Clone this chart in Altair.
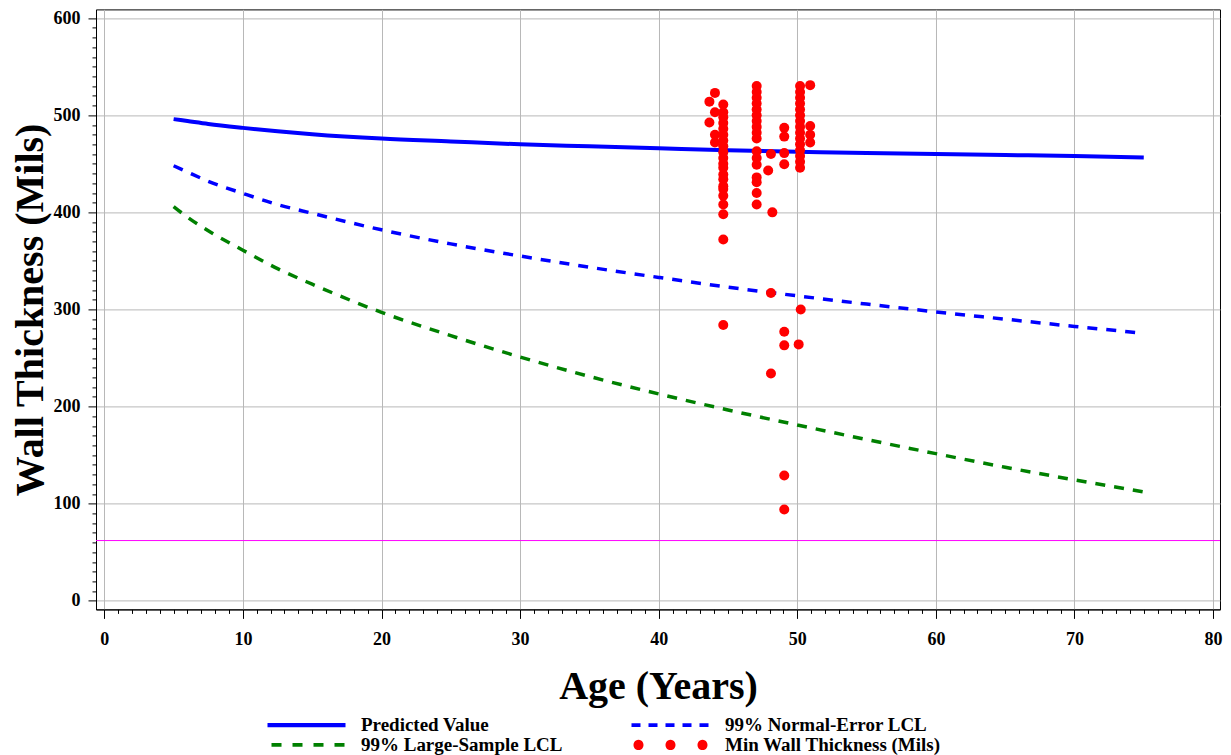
import altair as alt
import pandas as pd

FONT = "Liberation Serif"

# ---------------- data ----------------
curve_age = [5, 6, 7.5, 10, 12.5, 15, 20, 25, 30, 35, 40, 45, 50, 55, 60, 65, 70, 75]
predicted = [496, 494, 491, 487, 483.5, 480.5, 476, 473, 470, 468, 466, 464, 462.5, 461, 460, 459, 458, 456.5]
normal_lcl = [448, 441.5, 432, 419.5, 408, 399, 382, 367.5, 355, 343.5, 333, 323, 314, 305.5, 297.5, 290, 282.5, 275.5]
large_lcl = [406, 395, 381, 361, 342, 326, 297, 273, 251, 231, 213, 196.5, 181, 166, 151.5, 137.5, 124.5, 112]

obs_age = [
    43.66, 43.66,
    44.06, 44.06, 44.06, 44.06,
    44.66, 44.66, 44.66, 44.66, 44.66, 44.66, 44.66, 44.66, 44.66, 44.66, 44.66,
    44.66, 44.66, 44.66, 44.66, 44.66, 44.66, 44.66, 44.66, 44.66, 44.66,
    47.07, 47.07, 47.07, 47.07, 47.07, 47.07, 47.07, 47.07, 47.07, 47.07, 47.07,
    47.07, 47.07, 47.07, 47.07, 47.07, 47.07,
    48.1, 47.9, 48.2, 48.1, 48.1,
    49.06, 49.06, 49.06, 49.06, 49.06, 49.06, 49.06, 49.06,
    50.2, 50.2, 50.2, 50.2, 50.2, 50.2, 50.2, 50.2, 50.2, 50.2, 50.2, 50.2,
    50.2, 50.2, 50.2, 50.25, 50.1,
    50.93, 50.93, 50.93, 50.93,
]
obs_thickness = [
    514, 492.5,
    523, 503, 480, 472,
    511, 503, 498, 492, 486, 480, 474, 468, 462, 456, 450,
    446, 439, 434, 427, 424, 417, 408, 398, 372, 284,
    530, 524, 518, 512, 506, 500, 494, 488, 482, 476, 463,
    456, 449, 436, 431, 420, 408,
    460, 443, 400, 317, 234,
    487, 478, 461, 449.5, 277, 263, 129, 94,
    530, 524, 518, 512, 506, 500, 494, 488, 482, 476, 470, 464,
    458, 452, 446, 300, 264,
    531, 489, 480, 472,
]

limit_value = [62]

# legend entries (listed column by column: left column, then right column)
legend_labels = [
    "Predicted Value",
    "99% Large-Sample LCL",
    "99% Normal-Error LCL",
    "Min Wall Thickness (Mils)",
]
legend_colors = ["#0000ff", "#008000", "#0000ff", "#ff0000"]

x_ticks = list(range(0, 81))
y_ticks = list(range(0, 601, 10))

# ---------------- tables ----------------
pred_df = pd.DataFrame({"age": curve_age, "thickness": predicted})
normal_df = pd.DataFrame({"age": curve_age, "thickness": normal_lcl})
large_df = pd.DataFrame({"age": curve_age, "thickness": large_lcl})
obs_df = pd.DataFrame({"age": obs_age, "thickness": obs_thickness})
limit_df = pd.DataFrame({"thickness": limit_value})
legend_df = pd.DataFrame({"series": legend_labels})

# ---------------- axes ----------------
major_x = "datum.value % 10 === 0"
major_y = "datum.value % 100 === 0"

x_axis = alt.Axis(
    values=x_ticks,
    title="Age (Years)",
    grid=True,
    gridColor="#b8b8b8",
    gridWidth=1,
    gridOpacity={"condition": {"test": major_x, "value": 1}, "value": 0},
    tickColor="black",
    tickWidth=1,
    tickSize={"condition": {"test": major_x, "value": 9}, "value": 4},
    labelExpr=f"{major_x} ? datum.label : ''",
    labelFont=FONT,
    labelFontSize=18,
    labelFontWeight="bold",
    labelColor="black",
    labelPadding=12,
    labelOverlap=False,
    labelFlush=False,
    domainColor="black",
    titleFont=FONT,
    titleFontSize=40,
    titleFontWeight="bold",
    titleColor="black",
    titlePadding=18,
)
y_axis = alt.Axis(
    values=y_ticks,
    title="Wall Thickness (Mils)",
    grid=True,
    gridColor="#b8b8b8",
    gridWidth=1,
    gridOpacity={"condition": {"test": major_y, "value": 1}, "value": 0},
    tickColor="black",
    tickWidth=1,
    tickSize={"condition": {"test": major_y, "value": 8}, "value": 4},
    labelExpr=f"{major_y} ? datum.label : ''",
    labelFont=FONT,
    labelFontSize=18,
    labelFontWeight="bold",
    labelColor="black",
    labelPadding=8,
    labelOverlap=False,
    labelFlush=False,
    domainColor="black",
    titleFont=FONT,
    titleFontSize=40,
    titleFontWeight="bold",
    titleColor="black",
    titlePadding=3,
)

X = alt.X("age:Q", scale=alt.Scale(domain=[-0.6, 80.5], nice=False, zero=False), axis=x_axis)
Y = alt.Y("thickness:Q", scale=alt.Scale(domain=[-8.9, 609], nice=False, zero=False), axis=y_axis)

# ---------------- layers ----------------
limit_rule = alt.Chart(limit_df).mark_rule(color="#ff00ff", strokeWidth=1).encode(y=Y)

large_line = alt.Chart(large_df).mark_line(
    color="#008000", strokeWidth=3.5, strokeDash=[10, 9], interpolate="monotone"
).encode(x=X, y=Y)

normal_line = alt.Chart(normal_df).mark_line(
    color="#0000ff", strokeWidth=3.5, strokeDash=[10, 9], interpolate="monotone"
).encode(x=X, y=Y)

pred_line = alt.Chart(pred_df).mark_line(
    color="#0000ff", strokeWidth=4, interpolate="monotone"
).encode(x=X, y=Y)

points = alt.Chart(obs_df).mark_circle(color="#ff0000", size=100, opacity=1).encode(x=X, y=Y)


# legend symbols (custom SVG paths, 9 px per unit, symbol centre 9 px from entry start)
def u(px):
    return (px - 9) / 9.0


def rects(segs, half_px):
    h = half_px / 9.0
    return " ".join(
        f"M{u(a):.3f},{-h:.3f}H{u(b):.3f}V{h:.3f}H{u(a):.3f}Z" for a, b in segs
    )


def dots(centers, r_px):
    r = r_px / 9.0
    out = []
    for c in centers:
        cx = u(c)
        out.append(
            f"M{cx - r:.3f},0A{r:.3f},{r:.3f} 0 1,0 {cx + r:.3f},0A{r:.3f},{r:.3f} 0 1,0 {cx - r:.3f},0Z"
        )
    return " ".join(out)


legend_shapes = [
    rects([(0, 78)], 2.2),
    rects([(4, 14), (25, 35), (46, 56), (67, 77)], 1.9),
    rects([(0, 9), (17, 26), (34, 43), (51, 60), (68, 77)], 1.9),
    dots([7, 39, 71], 5),
]

legend_def = alt.Legend(
    title=None,
    orient="none",
    legendX=171,
    legendY=706,
    columns=2,
    columnPadding=68,
    rowPadding=-5,
    symbolSize=324,
    symbolStrokeWidth=0,
    symbolOpacity=1,
    labelOffset=75,
    labelFont=FONT,
    labelFontSize=19,
    labelFontWeight="bold",
    labelColor="black",
    labelLimit=0,
)

legend_layer = alt.Chart(legend_df).transform_filter("false").mark_point(
    filled=True, size=324, opacity=1
).encode(
    color=alt.Color(
        "series:N",
        scale=alt.Scale(domain=legend_labels, range=legend_colors),
        legend=legend_def,
    ),
    shape=alt.Shape(
        "series:N",
        scale=alt.Scale(domain=legend_labels, range=legend_shapes),
        legend=legend_def,
    ),
)

chart = alt.layer(
    limit_rule, large_line, normal_line, pred_line, points, legend_layer
).properties(
    width=1124,
    height=600,
    padding={"left": 88, "top": 1.4, "right": 3, "bottom": 150},
    autosize=alt.AutoSizeParams(type="none"),
    background="white",
).configure_view(
    stroke="black", strokeWidth=1
)

chart.save("out.html", embed_options={"renderer": "svg", "actions": False})
